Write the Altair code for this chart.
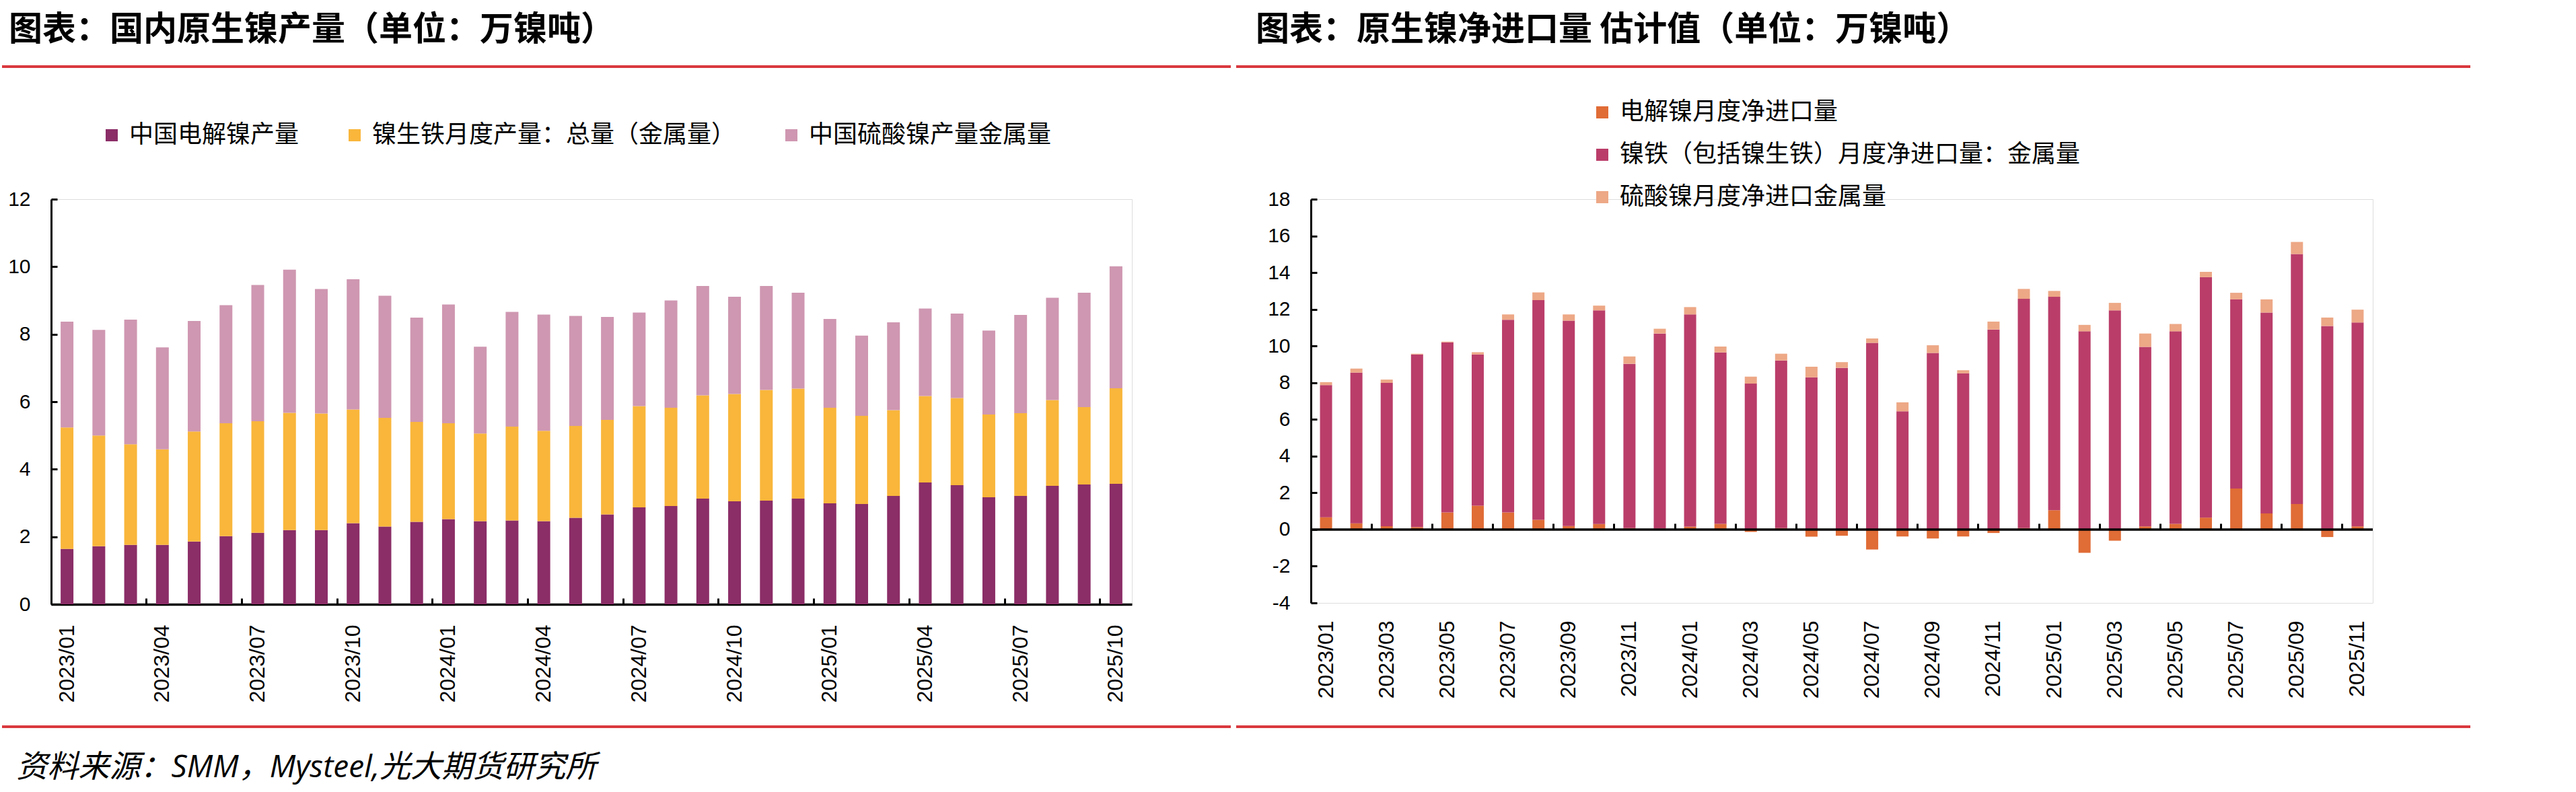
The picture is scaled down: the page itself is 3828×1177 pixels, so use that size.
import altair as alt
import pandas as pd

# ---------------- data ----------------
months_left = [
    "2023/01", "2023/02", "2023/03", "2023/04", "2023/05", "2023/06", "2023/07", "2023/08",
    "2023/09", "2023/10", "2023/11", "2023/12", "2024/01", "2024/02", "2024/03", "2024/04",
    "2024/05", "2024/06", "2024/07", "2024/08", "2024/09", "2024/10", "2024/11", "2024/12",
    "2025/01", "2025/02", "2025/03", "2025/04", "2025/05", "2025/06", "2025/07", "2025/08",
    "2025/09", "2025/10",
]
series_left = ["中国电解镍产量", "镍生铁月度产量：总量（金属量）", "中国硫酸镍产量金属量"]
electrolytic = [1.64, 1.72, 1.76, 1.76, 1.86, 2.02, 2.12, 2.20, 2.20, 2.40, 2.30, 2.44,
                2.52, 2.46, 2.48, 2.46, 2.56, 2.66, 2.87, 2.91, 3.13, 3.05, 3.07, 3.13,
                2.99, 2.97, 3.21, 3.61, 3.53, 3.17, 3.21, 3.51, 3.55, 3.57]
npi_metal = [3.60, 3.28, 2.98, 2.83, 3.26, 3.34, 3.30, 3.47, 3.45, 3.37, 3.22, 2.96,
             2.84, 2.60, 2.78, 2.68, 2.72, 2.80, 3.00, 2.91, 3.06, 3.18, 3.28, 3.26,
             2.83, 2.61, 2.54, 2.56, 2.58, 2.45, 2.45, 2.54, 2.29, 2.83]
sulfate_metal = [3.13, 3.13, 3.69, 3.02, 3.27, 3.50, 4.04, 4.24, 3.69, 3.86, 3.62, 3.09,
                 3.52, 2.57, 3.40, 3.44, 3.26, 3.05, 2.77, 3.18, 3.24, 2.88, 3.08, 2.84,
                 2.63, 2.38, 2.60, 2.59, 2.50, 2.49, 2.91, 3.03, 3.39, 3.61]
labels_left = ["2023/01", "2023/04", "2023/07", "2023/10", "2024/01", "2024/04",
               "2024/07", "2024/10", "2025/01", "2025/04", "2025/07", "2025/10"]
ticks_left = ["2023/04", "2023/07", "2023/10", "2024/01", "2024/04", "2024/07",
              "2024/10", "2025/01", "2025/04", "2025/07", "2025/10"]
yticks_left = [0, 2, 4, 6, 8, 10, 12]

months_right = months_left + ["2025/11"]
series_right = ["电解镍月度净进口量", "镍铁（包括镍生铁）月度净进口量：金属量", "硫酸镍月度净进口金属量"]
imp_electrolytic = [0.67, 0.34, 0.18, 0.13, 0.93, 1.30, 0.93, 0.53, 0.19, 0.30, 0.08, 0.05,
                    0.16, 0.31, -0.13, 0.08, -0.39, -0.34, -1.09, -0.38, -0.49, -0.38, -0.19, 0.08,
                    1.05, -1.27, -0.61, 0.17, 0.31, 0.65, 2.23, 0.88, 1.39, -0.41, 0.17]
imp_ferronickel = [7.20, 8.21, 7.81, 9.41, 9.27, 8.24, 10.50, 11.97, 11.19, 11.64, 8.95, 10.63,
                   11.56, 9.34, 7.95, 9.13, 8.29, 8.81, 10.17, 6.44, 9.62, 8.51, 10.90, 12.49,
                   11.63, 10.80, 11.94, 9.78, 10.49, 13.10, 10.31, 10.94, 13.62, 11.09, 11.11]
imp_sulfate = [0.16, 0.22, 0.18, 0.04, 0.04, 0.12, 0.29, 0.42, 0.34, 0.26, 0.40, 0.26,
               0.40, 0.32, 0.38, 0.37, 0.58, 0.31, 0.24, 0.49, 0.42, 0.17, 0.43, 0.54,
               0.32, 0.35, 0.41, 0.73, 0.40, 0.29, 0.36, 0.72, 0.66, 0.46, 0.70]
labels_right = ["2023/01", "2023/03", "2023/05", "2023/07", "2023/09", "2023/11",
                "2024/01", "2024/03", "2024/05", "2024/07", "2024/09", "2024/11",
                "2025/01", "2025/03", "2025/05", "2025/07", "2025/09", "2025/11"]
ticks_right = ["2023/03", "2023/05", "2023/07", "2023/09", "2023/11", "2024/01",
               "2024/03", "2024/05", "2024/07", "2024/09", "2024/11", "2025/01",
               "2025/03", "2025/05", "2025/07", "2025/09", "2025/11"]
yticks_right = [-4, -2, 0, 2, 4, 6, 8, 10, 12, 14, 16, 18]

title_left = "图表：国内原生镍产量（单位：万镍吨）"
title_right = "图表：原生镍净进口量 估计值（单位：万镍吨）"
source_text = "资料来源：SMM，Mysteel,光大期货研究所"

# ---------------- style ----------------
colors_left = ["#8b2d67", "#f9b63b", "#cf97b1"]
colors_right = ["#e06c36", "#ba3d69", "#eda886"]
RED = "#d9393e"
CJK = "Noto Sans CJK SC"
NUM = "Liberation Sans"


def long_df(months, names, arrays):
    rows = []
    for i, (name, arr) in enumerate(zip(names, arrays)):
        for m, v in zip(months, arr):
            rows.append({"month": m, "series": name, "idx": i, "value": v})
    return pd.DataFrame(rows)


df_l = long_df(months_left, series_left, [electrolytic, npi_metal, sulfate_metal])
df_r = long_df(months_right, series_right, [imp_electrolytic, imp_ferronickel, imp_sulfate])
deco = pd.DataFrame({"k": [0]})
zero_df = pd.DataFrame({"zero": [0]})


def panel(df, months, names, colors, labels, tickvals, yticks, ydomain, W, H, bar_size,
          legend, title, title_dx, red_x1, red_x2, x_domain_line, label_pad):
    xs = alt.Scale(domain=months, paddingInner=0, paddingOuter=0)
    ys = alt.Scale(domain=ydomain, nice=False, zero=False)
    bars = alt.Chart(df).mark_bar(size=bar_size).encode(
        x=alt.X("month:N", scale=xs, sort=months, axis=alt.Axis(
            title=None, values=labels, labelAngle=270, labelAlign="right", labelBaseline="middle",
            labelPadding=label_pad, ticks=False, tickSize=0, domain=x_domain_line,
            domainColor="black", domainWidth=3.5, labelFont=NUM, labelFontSize=32,
            labelColor="black", grid=False, labelOverlap=False)),
        y=alt.Y("value:Q", stack="zero", scale=ys, axis=alt.Axis(
            title=None, values=yticks, ticks=False, tickSize=0, labelPadding=31,
            domainColor="black", domainWidth=3, labelFont=NUM, labelFontSize=30,
            labelColor="black", grid=False, labelExpr="toString(datum.value)")),
        color=alt.Color("series:N", sort=names,
                        scale=alt.Scale(domain=names, range=colors), legend=legend),
        order=alt.Order("idx:Q", sort="ascending"),
    )
    tick_layer = alt.Chart(df).mark_point(opacity=0).encode(
        x=alt.X("month:N", scale=xs, sort=months, axis=alt.Axis(
            orient="top", offset=-H * (ydomain[1] / (ydomain[1] - ydomain[0])),
            values=tickvals, bandPosition=0, labels=False, domain=False, ticks=True,
            tickSize=9, tickWidth=3, tickColor="black", title=None, grid=False)),
        y=alt.Y("value:Q", scale=ys, axis=alt.Axis(
            orient="right", offset=-W, values=yticks, labels=False, domain=False,
            ticks=True, tickSize=9, tickWidth=3, tickColor="black", title=None, grid=False)),
    )
    layers = [bars, tick_layer]
    if not x_domain_line:
        layers.append(alt.Chart(zero_df).mark_rule(color="black", strokeWidth=3.5).encode(
            y=alt.Y("zero:Q", scale=ys, axis=None)))
    layers.append(alt.Chart(deco).mark_rule(color=RED, strokeWidth=4).encode(
        x=alt.value(red_x1), x2=alt.value(red_x2), y=alt.value(-197)))
    layers.append(alt.Chart(deco).mark_rule(color=RED, strokeWidth=4).encode(
        x=alt.value(red_x1), x2=alt.value(red_x2), y=alt.value(784)))
    return alt.layer(*layers).resolve_axis(x="independent", y="independent").properties(
        width=W, height=H,
        title=alt.Title(title, anchor="start", frame="bounds", dx=title_dx, offset=27,
                        font=CJK, fontSize=50, fontWeight="bold", color="black"),
    )


legend_left = alt.Legend(
    title=None, orient="none", legendX=72, legendY=-113, direction="horizontal",
    columnPadding=64, symbolType="square", symbolSize=324, symbolStrokeWidth=0,
    labelFont=CJK, labelFontSize=36, labelColor="black", labelLimit=3000, labelOffset=8,
    padding=0)
legend_right = alt.Legend(
    title=None, orient="none", legendX=415, legendY=-147, direction="vertical",
    rowPadding=27, symbolType="square", symbolSize=324, symbolStrokeWidth=0,
    labelFont=CJK, labelFontSize=36, labelColor="black", labelLimit=3000, labelOffset=8,
    padding=0)

left = panel(df_l, months_left, series_left, colors_left, labels_left, ticks_left,
             yticks_left, [0, 12], 1606, 602, 19, legend_left, title_left, 12,
             -73, 1753, True, 30)
right = panel(df_r, months_right, series_right, colors_right, labels_right, ticks_right,
              yticks_right, [-4, 18], 1578, 600, 18, legend_right, title_right, 31,
              -111, 1723, False, 26)

chart = alt.hconcat(left, right, spacing=2).resolve_scale(color="independent").properties(
    title=alt.Title(source_text, orient="bottom", anchor="start", frame="bounds", dx=24,
                    offset=36, font="Open Sans, Noto Sans CJK SC", fontSize=46,
                    fontStyle="italic", fontWeight="normal", color="black"),
    padding={"left": 0, "top": 19, "right": 0, "bottom": 14},
).configure_view(stroke=None).configure(background="white")

chart.save("out.html", embed_options={"renderer": "svg", "actions": False})
